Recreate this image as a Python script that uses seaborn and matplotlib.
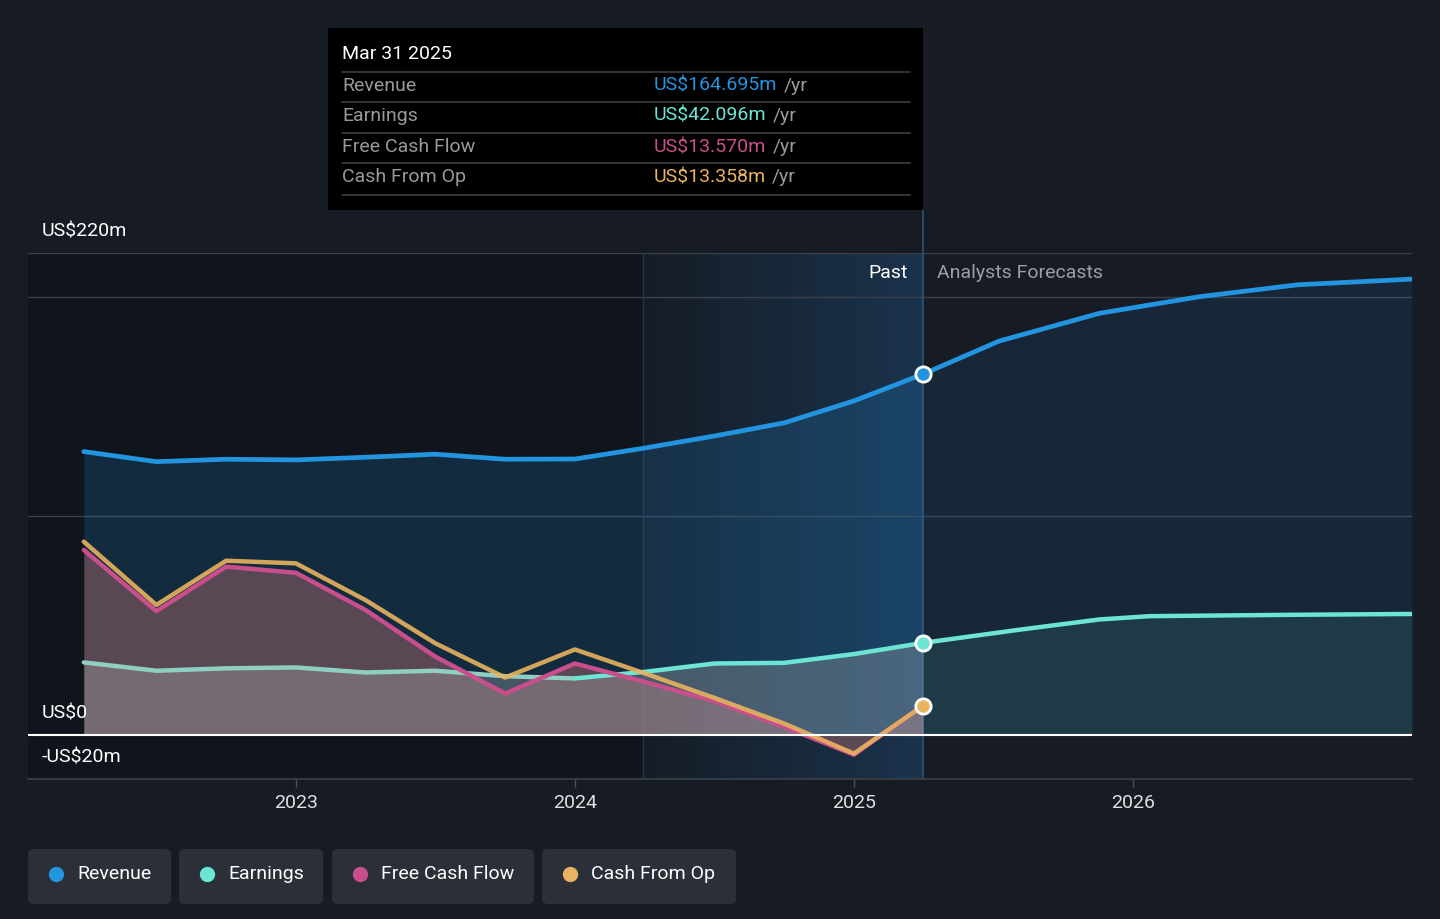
import numpy as np
import pandas as pd
import seaborn as sns
import matplotlib.pyplot as plt
from matplotlib.patches import Rectangle, FancyBboxPatch
from matplotlib.lines import Line2D

# dữ liệu (đơn vị: triệu USD)
past_dates = [2022.24, 2022.5, 2022.75, 2023.0, 2023.25, 2023.5, 2023.75,
              2024.0, 2024.25, 2024.5, 2024.75, 2025.0, 2025.247]
revenue = [129.4, 124.8, 125.9, 125.6, 126.8, 128.2, 125.9,
           126.0, 131.0, 136.5, 142.5, 152.5, 164.695]
earnings = [33.2, 29.4, 30.5, 30.9, 28.6, 29.4, 26.9,
            25.9, 28.9, 32.7, 33.0, 37.0, 42.096]
free_cash_flow = [84.5, 56.6, 76.9, 74.1, 57.1, 35.8, 19.0,
                  32.7, 24.3, 15.5, 3.8, -8.9, 13.570]
cash_from_op = [88.3, 59.4, 79.6, 78.4, 61.6, 41.9, 26.3,
                39.1, 28.2, 17.0, 5.3, -8.4, 13.358]

rev_fc_dates = [2025.247, 2025.52, 2025.88, 2026.24, 2026.59, 2027.0]
rev_fc = [164.695, 179.8, 192.5, 200.1, 205.5, 208.1]
earn_fc_dates = [2025.247, 2025.58, 2025.88, 2026.06, 2026.55, 2027.0]
earn_fc = [42.096, 47.9, 52.8, 54.3, 54.9, 55.3]

year_ticks = [2023, 2024, 2025, 2026]
tooltip_rows = ["Revenue", "Earnings", "Free Cash Flow", "Cash From Op"]
tooltip_vals = ["US$164.695m", "US$42.096m", "US$13.570m", "US$13.358m"]

C_REV, C_EARN, C_FCF, C_CFO = "#2394df", "#6ce5d5", "#c94f8c", "#e9b35f"
BG = "#161b24"
W, H = 1440, 919
PAST_END = 2025.247
HIGHLIGHT_START = 2024.244
FS = 14

sns.set_theme(style="dark", rc={"figure.facecolor": BG, "axes.facecolor": BG})
plt.rcParams["font.family"] = ["Roboto", "DejaVu Sans"]

fig = plt.figure(figsize=(W / 100, H / 100), dpi=100)


def fx(px):
    return px / W


def fy(py):
    return 1 - py / H


ax = fig.add_axes([fx(28), fy(779), fx(1412) - fx(28), fy(253) - fy(779)])
ax.set_xlim(2022.04, 2027.0)
ax.set_ylim(-20, 220)

# nền tối hơn cho vùng quá khứ
ax.axvspan(2022.04, HIGHLIGHT_START, color="#0c1016", alpha=0.55, lw=0, zorder=0)
# vùng highlight (gradient)
grad = np.zeros((2, 200, 4))
grad[..., :3] = [0.14, 0.45, 0.72]
grad[..., 3] = np.linspace(0.02, 0.28, 200)[None, :]
ax.imshow(grad, extent=[HIGHLIGHT_START, PAST_END, -20, 220], aspect="auto",
          origin="lower", zorder=0.5)

# lưới
for v in [220, 200, 100]:
    ax.axhline(v, color="#3a414b", lw=1, zorder=1)
ax.axhline(0, color="white", lw=1.5, zorder=6)
ax.axvline(HIGHLIGHT_START, color="#1f3448", lw=1, zorder=1)

# vùng tô
ax.fill_between(past_dates, revenue, 0, color=C_REV, alpha=0.18, lw=0, zorder=2)
ax.fill_between(rev_fc_dates, rev_fc, 0, color=C_REV, alpha=0.10, lw=0, zorder=2)
ax.fill_between(past_dates, free_cash_flow, 0, color="#e8837f", alpha=0.33, lw=0, zorder=2.5)
ax.fill_between(past_dates, earnings, 0, color="#b8b8b8", alpha=0.30, lw=0, zorder=3)
ax.fill_between(earn_fc_dates, earn_fc, 0, color=C_EARN, alpha=0.10, lw=0, zorder=3)

# đường
df_past = pd.DataFrame({"date": past_dates, "rev": revenue, "earn": earnings,
                        "fcf": free_cash_flow, "cfo": cash_from_op})
sns.lineplot(x=rev_fc_dates, y=rev_fc, ax=ax, color=C_REV, lw=3.4, zorder=5)
sns.lineplot(data=df_past, x="date", y="rev", ax=ax, color=C_REV, lw=3.4, zorder=5)
sns.lineplot(data=df_past[df_past.date <= 2024.0], x="date", y="earn", ax=ax,
             color="#8fcfc2", lw=3.2, zorder=4)
sns.lineplot(data=df_past[df_past.date >= 2024.0], x="date", y="earn", ax=ax,
             color=C_EARN, lw=3.2, zorder=4)
sns.lineplot(x=earn_fc_dates, y=earn_fc, ax=ax, color=C_EARN, lw=3.2, zorder=4)
sns.lineplot(data=df_past, x="date", y="fcf", ax=ax, color=C_FCF, lw=3.2, zorder=4.5)
sns.lineplot(data=df_past, x="date", y="cfo", ax=ax, color=C_CFO, lw=3.2, alpha=0.9, zorder=4.6)
for ln in ax.lines:
    ln.set_solid_capstyle("round")
    ln.set_solid_joinstyle("round")

# điểm cuối
for val, col in [(revenue[-1], C_REV), (earnings[-1], C_EARN), (cash_from_op[-1], C_CFO)]:
    ax.plot([PAST_END], [val], "o", ms=11, mfc=col, mec="white", mew=2, zorder=8)

# đường Past
ax.axvline(PAST_END, ymin=0, ymax=(239.7 + 20) / 240, color="#2a5478", lw=1.2,
           clip_on=False, zorder=1)

ax.text(PAST_END - 0.055, 211, "Past", color="white", fontsize=FS,
        ha="right", va="center", zorder=9)
ax.text(PAST_END + 0.05, 211, "Analysts Forecasts", color="#9aa0a6", fontsize=FS,
        ha="left", va="center", zorder=9)

# nhãn trục y
fig.text(fx(42), fy(231), "US$220m", color="white", fontsize=FS, va="center")
fig.text(fx(42), fy(713), "US$0", color="white", fontsize=FS, va="center")
fig.text(fx(42), fy(757), "-US$20m", color="white", fontsize=FS, va="center")

# trục x
ax.set_xticks(year_ticks)
ax.set_xticklabels([str(y) for y in year_ticks], color="#e0e0e0", fontsize=FS)
ax.set_yticks([])
ax.tick_params(axis="x", length=6, width=1, color="#4a515b", pad=5, bottom=True)
ax.set_xlabel("")
ax.set_ylabel("")
for s in ["top", "left", "right"]:
    ax.spines[s].set_visible(False)
ax.spines["bottom"].set_color("#3a414b")
ax.spines["bottom"].set_linewidth(1.2)
ax.grid(False)

# tooltip
fig.patches.append(Rectangle((fx(328), fy(210)), fx(923) - fx(328), fy(28) - fy(210),
                             transform=fig.transFigure, facecolor="black",
                             edgecolor="none", zorder=10))
fig.text(fx(342), fy(54), "Mar 31 2025", color="white", fontsize=FS,
         va="center", zorder=11)
sep_y = [72, 102, 133, 163, 195]
for py in sep_y:
    fig.lines.append(Line2D([fx(342), fx(910)], [fy(py), fy(py)], transform=fig.transFigure,
                            color="#3d3d3d", lw=1.2, zorder=11))
row_y = [86, 116, 147, 177]
for name, val, col, py in zip(tooltip_rows, tooltip_vals, [C_REV, C_EARN, C_FCF, C_CFO], row_y):
    fig.text(fx(342), fy(py), name, color="#9a9a9a", fontsize=FS, va="center", zorder=11)
    t = fig.text(fx(654), fy(py), val, color=col, fontsize=FS, va="center", zorder=11)
    fig.canvas.draw()
    bb = t.get_window_extent()
    fig.text(bb.x1 / W + fx(6), fy(py), "/yr", color="#9a9a9a", fontsize=FS,
             va="center", zorder=11)

# chú giải
legend_boxes = [(28, 171), (179, 323), (332, 534), (542, 736)]
for (x0, x1), name, col in zip(legend_boxes, tooltip_rows, [C_REV, C_EARN, C_FCF, C_CFO]):
    fig.patches.append(FancyBboxPatch((fx(x0), fy(904)), fx(x1) - fx(x0), fy(849) - fy(904),
                                      boxstyle="round,pad=0,rounding_size=0.005",
                                      transform=fig.transFigure, facecolor="#2a2f38",
                                      edgecolor="none"))
    fig.lines.append(Line2D([fx(x0 + 28)], [fy(874)], marker="o", ms=10, color=col,
                            transform=fig.transFigure, lw=0))
    fig.text(fx(x0 + 49), fy(874), name, color="white", fontsize=FS, va="center")

fig.savefig("out.png", dpi=100, facecolor=BG)
